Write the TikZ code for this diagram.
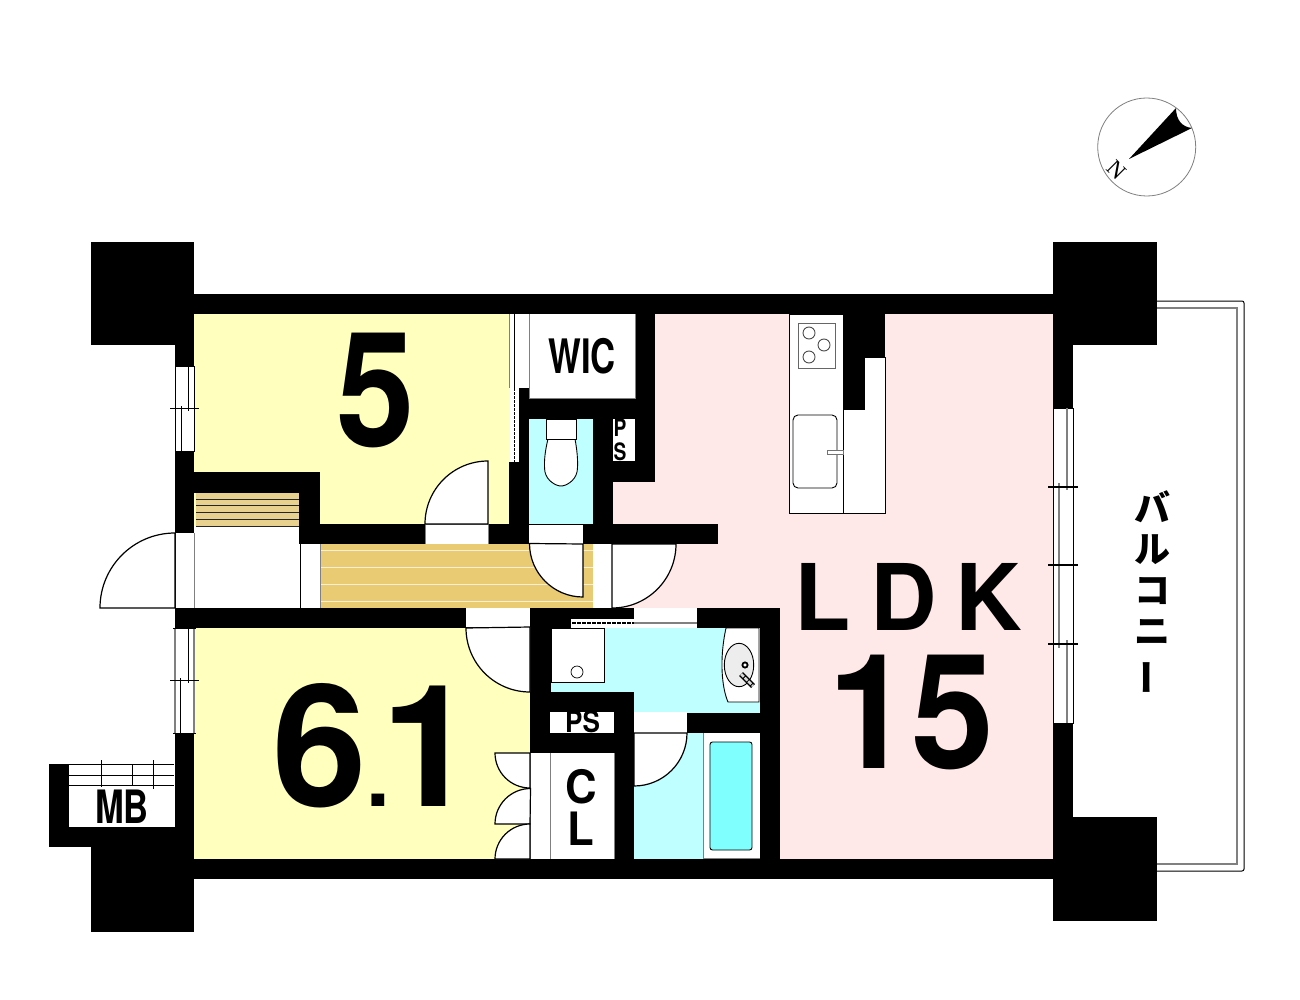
\documentclass[tikz,border=0pt]{standalone}
\usepackage{fontspec}
\setmainfont{TeX Gyre Heros}
\newfontfamily\cjk{Noto Sans CJK JP}
\newfontfamily\serifn{Liberation Serif}
\definecolor{yel}{HTML}{FFFFBE}
\definecolor{pnk}{HTML}{FFE8E8}
\definecolor{cyn}{HTML}{BFFFFF}
\definecolor{tub}{HTML}{80FFFF}
\definecolor{woodA}{HTML}{E8CB72}
\definecolor{woodB}{HTML}{E8D08E}
\definecolor{gline}{HTML}{808080}
\tikzset{
  x=1pt,y=-1pt,
  wall/.style={fill=black,draw=none},
  fixture/.style={fill=white,draw=black,line width=0.9pt},
  door/.style={fill=white,draw=black,line width=1.2pt},
  thin/.style={draw=black,line width=0.9pt},
  grey/.style={draw=gline,line width=1.2pt},
  hair/.style={draw=gline,line width=.8pt},
  winbox/.style={fill=white,draw=black,line width=1pt},
  bigtext/.style={inner sep=0pt,font=\bfseries},
}
\newcommand{\bigt}[5]{\node[bigtext,xscale=#4] (#5) at (#1) {\fontsize{#3}{#3}\selectfont #2};}
\begin{document}
\begin{tikzpicture}
\useasboundingbox (0,0) rectangle (1300,1000);
\fill[white] (0,0) rectangle (1300,1000);
% floors
\fill[yel] (194,314) rectangle (512,530);
\fill[yel] (194,628) rectangle (530,859);
\fill[pnk] (655,314) -- (1053,314) -- (1053,859) -- (780,859) -- (780,608) -- (612,608) -- (612,482) -- (655,482) -- cycle;
\fill[cyn] (529,419) rectangle (593,524);
\fill[cyn] (551,628) rectangle (760,692);
\fill[cyn] (634,692) rectangle (760,713);
\fill[cyn] (634,733) rectangle (704,859);
% entry and closet
\fill[white] (194,526) rectangle (300,608);
\fill[white] (300,544) rectangle (320,608);
\draw[grey] (194,533) -- (194,608);
\draw[thin] (300,544) -- (300,608);
\fill[woodB] (196,493) rectangle (299,526);
\foreach \yy in {499,505,512,519,526} \draw[black!85,line width=0.9pt] (196,\yy) -- (299,\yy);
\fill[woodA] (320,544) rectangle (593,608);
\foreach \yy in {550,567,584,601} \draw[white!70!woodA,line width=1pt] (320,\yy) -- (593,\yy);
\draw[hair] (320,544) -- (320,608);
\fill[white] (593,544) rectangle (612,608);
% walls
\fill[wall] (91,242) rectangle (194,345);
\fill[wall] (1053,242) rectangle (1157,345);
\fill[wall] (91,847) rectangle (194,932);
\fill[wall] (1053,817) rectangle (1157,921);
\fill[wall] (194,294) rectangle (1053,314);
\fill[wall] (194,859) rectangle (1053,879);
\fill[wall] (175,345) rectangle (194,533);
\fill[wall] (175,472) rectangle (320,493);
\fill[wall] (299,472) rectangle (320,544);
\fill[wall] (299,524) rectangle (718,544);
\fill[wall] (175,608) rectangle (530,628);
\fill[wall] (175,733) rectangle (194,859);
\fill[wall] (49,764) rectangle (69,847);
\fill[wall] (49,827) rectangle (175,847);
\fill[wall] (1053,345) rectangle (1073,817);
\fill[wall] (509,462) rectangle (529,524);
\fill[wall] (519,388) rectangle (529,462);
\fill[wall] (529,398) rectangle (655,419);
\fill[wall] (593,398) rectangle (613,524);
\fill[wall] (635,314) rectangle (655,482);
\fill[wall] (613,461) rectangle (655,482);
\fill[wall] (530,608) rectangle (551,753);
\fill[wall] (530,608) rectangle (780,628);
\fill[wall] (760,608) rectangle (780,859);
\fill[wall] (530,692) rectangle (634,712);
\fill[wall] (530,733) rectangle (634,753);
\fill[wall] (614,692) rectangle (634,859);
\fill[wall] (687,713) rectangle (780,733);
% white rooms
\fill[white] (529,314) rectangle (635,398);
\draw[hair] (529,314) -- (529,398) -- (635,398) -- (635,314);
\fill[white] (613,419) rectangle (635,461);
\fill[white] (550,712) rectangle (614,733);
\fill[white] (550,753) rectangle (614,859);
\fill[white] (530,753) rectangle (550,859);
\draw[hair] (550,753) -- (550,859);
\draw[hair] (530,753) -- (530,859);
\draw[hair] (614,753) -- (614,859);
\fill[white] (69,764) rectangle (174,827);
% windows
\draw[winbox] (175,366) rectangle (194,451);
\draw[thin] (188,366) -- (188,411);
\draw[thin] (181,406) -- (181,451);
\draw[thin,line width=1.2pt] (170,408.7) -- (199,408.7);
\fill[white] (175,628) rectangle (194,733);
\draw[grey] (175,628) -- (175,733);
\draw[grey] (194,628) -- (194,733);
\draw[thin] (173,628) -- (196,628);
\draw[thin] (173,733) -- (196,733);
\draw[thin] (188,628) -- (188,683);
\draw[thin] (180,678) -- (180,733);
\draw[thin,line width=1.2pt] (170,680.7) -- (199,680.7);
\draw[winbox] (1053,408) rectangle (1073,723);
\draw[grey] (1067,408) -- (1067,490);
\draw[grey] (1059,483) -- (1059,648);
\draw[grey] (1067,640) -- (1067,723);
\foreach \yy in {487,565,644} \draw[thin,line width=1.1pt] (1048,\yy) -- (1078,\yy);
% MB window
\foreach \yy in {764,775,785} \draw[thin] (69,\yy) -- (174,\yy);
\draw[thin] (101,760) -- (101,787);
\draw[thin] (132,764) -- (132,785);
\draw[thin] (153,760) -- (153,789);
% sliding doors
\fill[white] (510,314) rectangle (529,388);
\draw[hair] (509.5,314) -- (509.5,388);
\draw[hair] (529,314) -- (529,388);
\draw[thin] (514,314) -- (514,388);
\fill[white] (510,388) rectangle (519,462);
\draw[black,line width=1pt,dash pattern=on 2.5pt off 1.5pt] (514,388) -- (514,462);
\fill[white] (571,619) rectangle (634,628);
\draw[black,line width=1.2pt,dash pattern=on 3.5pt off 1.5pt] (572,623) -- (634,623);
\fill[white] (634,608) rectangle (697,628);
\draw[grey] (634,623) -- (697,623);
% door openings
\fill[white] (425,524) rectangle (488,544);
\draw[hair] (425,524) -- (488,524) (425,524) -- (425,544) (488,524) -- (488,544);
\fill[white] (529,525) rectangle (583,544);
\fill[white] (466,608) rectangle (530,627);
\fill[white] (634,712) rectangle (687,733);
\fill[white] (175,533) rectangle (194,608);
\draw[thin] (175,533) -- (175,608);
% doors
\draw[door] (175,608) -- (100,608) arc[start angle=180,end angle=270,radius=75] -- cycle;
\draw[door] (488,524) -- (488,461) arc[start angle=270,end angle=180,radius=63] -- cycle;
\draw[door] (583,544) -- (583,597) arc[start angle=90,end angle=180,radius=53.5] -- cycle;
\draw[door] (612,608) -- (612,544) -- (676,544) arc[start angle=0,end angle=90,radius=64];
\draw[door] (530,627) -- (530,692) arc[start angle=90,end angle=180,radius=64] -- cycle;
\draw[door] (634,733) -- (634,786) arc[start angle=90,end angle=0,radius=53] -- cycle;
\draw[door] (530,753) -- (495,753) arc[start angle=180,end angle=90,radius=35] -- cycle;
\draw[door] (530,824) -- (495,824) arc[start angle=180,end angle=270,radius=35.5] -- cycle;
\draw[door] (530,859) -- (495,859) arc[start angle=180,end angle=270,radius=35] -- cycle;
% toilet
\draw[fixture] (548,439) .. controls (544,455) and (544,466) .. (545,472) .. controls (547,481) and (556,486) .. (561,486) .. controls (566,486) and (575,481) .. (577,472) .. controls (578,466) and (578,455) .. (575,439) -- cycle;
\draw[fixture] (546,419) rectangle (576,439);
% washing
\draw[fixture] (551,628) rectangle (604,682);
\draw[fixture,line width=.7pt] (577,672) circle[radius=6];
% wash basin
\draw[fixture] (726,628) -- (759,628) -- (759,702) -- (728,702) .. controls (722,688) and (719,660) .. (726,628) -- cycle;
\draw[fill=black!7,draw=black,line width=.9pt] (739,665) ellipse[x radius=14.7,y radius=21.7];
\draw[black,line width=1.8pt,fill=white] (745,665) circle[radius=2.6];
\draw[black,line width=5.5pt] (741,674) -- (753,686);
\draw[white!85!black,line width=2.6pt,dash pattern=on 4pt off 1.2pt] (741,674) -- (753,686);
% bath
\fill[white] (704,733) rectangle (760,858);
\draw[hair] (703.5,733) -- (703.5,858) -- (760,858);
\draw[fill=tub,draw=black,line width=.9pt,rounded corners=2.5pt] (710,742) rectangle (752,850);
% kitchen
\fill[wall] (843,314) rectangle (885,357);
\fill[wall] (843,357) rectangle (864,409);
\fill[white] (864,357) rectangle (885,513);
\fill[white] (843,409) rectangle (864,513);
\draw[thin] (843,409) -- (864,409) -- (864,357) -- (885,357) -- (885,513) -- (843,513);
\draw[fixture] (789,314) rectangle (843,513);
\draw[thin,draw=black!60,line width=1pt] (798,323) rectangle (835,368);
\foreach \cx/\cy in {809/333,824/345,809/357} \draw[black!70,line width=.9pt] (\cx,\cy) circle[radius=6];
\draw[thin,rounded corners=5pt] (793,415) rectangle (837,488);
\draw[thin,draw=black!55,fill=white] (827,450) rectangle (843,454);
% balcony
\draw[black,line width=1pt,rounded corners=2pt] (1157,301) -- (1244,301) -- (1244,871) -- (1157,871);
\draw[gline,line width=1.6pt] (1157,308) -- (1237,308) -- (1237,864) -- (1157,864);
% compass
\draw[gline,line width=.8pt] (1146.7,147) circle[radius=49];
\fill[black] (1129,159) -- (1176,108) .. controls (1176,120) and (1182,127) .. (1192,128) -- cycle;
\node[inner sep=0pt,rotate=-45] (north) at (1117,170) {\serifn\fontsize{23}{23}\selectfont N};
% text
\bigt{376,390}{5}{160}{.88}{rfive}
\node[bigtext,anchor=base west] (rsix) at (272,806) {\fontsize{170}{170}\selectfont 6{\fontsize{85}{85}\selectfont .}\kern-9pt 1};
\bigt{908.5,597}{L\kern19pt D\kern19pt K}{92}{1}{rldk}
\bigt{911,712}{15}{160}{.93}{rfifteen}
\bigt{582,356}{WIC}{47.5}{.73}{rwic}
\bigt{122,807}{MB}{46}{.75}{rmb}
\node[bigtext,xscale=.87] (rps) at (582.5,722) {\fontsize{30}{30}\selectfont PS};
\node[inner sep=0pt,align=center,xscale=.8,font=\bfseries\fontsize{24}{23.5}\selectfont] (rps2) at (620,440) {P\\S};
\node[inner sep=0pt,align=center,xscale=.95,font=\bfseries\fontsize{46}{42}\selectfont] (rcl) at (581,807) {C\\L};
\node[inner sep=0pt,align=center,font=\cjk\bfseries\fontsize{36}{41}\selectfont] (rbal) at (1152,593) {バ\\ル\\コ\\ニ\\\rotatebox[origin=c]{90}{ー}};
\end{tikzpicture}
\end{document}
